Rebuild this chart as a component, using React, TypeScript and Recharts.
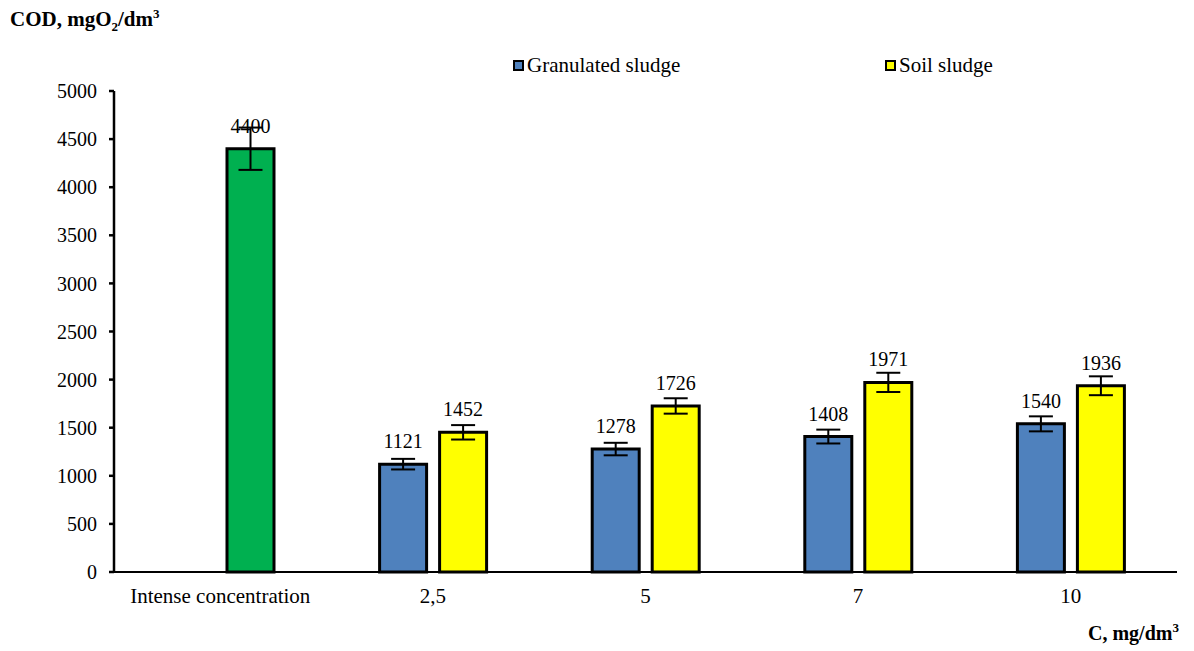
import React from 'react';
import {
  BarChart,
  Bar,
  XAxis,
  YAxis,
  Cell,
  ErrorBar,
  LabelList,
} from 'recharts';

const categories = ['Intense concentration', '2,5', '5', '7', '10'];
const granulated = [null, 1121, 1278, 1408, 1540];
const granulatedErr = [null, 55, 65, 72, 78];
const soil = [4400, 1452, 1726, 1971, 1936];
const soilErr = [220, 75, 80, 100, 98];
const yTicks = [0, 500, 1000, 1500, 2000, 2500, 3000, 3500, 4000, 4500, 5000];

const data = categories.map((c, i) => ({
  name: c,
  granulated: granulated[i],
  granulatedErr: granulatedErr[i],
  soil: soil[i],
  soilErr: soilErr[i],
}));

const FONT = '"Liberation Serif", "Times New Roman", serif';
const BLUE = '#4F81BD';
const YELLOW = '#FFFF00';
const GREEN = '#00B050';

const legendItems = [
  { label: 'Granulated sludge', color: BLUE, left: 513 },
  { label: 'Soil sludge', color: YELLOW, left: 885 },
];

export default function App() {
  return (
    <div
      style={{
        position: 'absolute',
        left: 0,
        top: 0,
        width: 1194,
        height: 651,
        background: '#fff',
        fontFamily: FONT,
      }}
    >
      <BarChart
        width={1194}
        height={651}
        data={data}
        margin={{ top: 91, right: 17, bottom: 49, left: 0 }}
        barSize={47}
        barGap={13}
      >
        <XAxis
          dataKey="name"
          stroke="#000"
          strokeWidth={2}
          tickLine={false}
          tickSize={0}
          tickMargin={16}
          tick={{ fill: '#000', fontSize: 21, fontFamily: FONT }}
          height={30}
        />
        <YAxis
          domain={[0, 5000]}
          ticks={yTicks}
          stroke="#000"
          strokeWidth={2.5}
          tickSize={5}
          tickMargin={12}
          tick={{ fill: '#000', fontSize: 20, fontFamily: FONT }}
          width={114}
          interval={0}
        />
        <Bar
          dataKey="granulated"
          fill={BLUE}
          stroke="#000"
          strokeWidth={3}
          isAnimationActive={false}
        >
          <ErrorBar dataKey="granulatedErr" width={12} stroke="#000" strokeWidth={2} />
          <LabelList
            dataKey="granulated"
            position="top"
            offset={16}
            fill="#000"
            fontSize={20}
            fontFamily={FONT}
          />
        </Bar>
        <Bar
          dataKey="soil"
          fill={YELLOW}
          stroke="#000"
          strokeWidth={3}
          isAnimationActive={false}
        >
          {data.map((d, i) => (
            <Cell key={d.name} fill={i === 0 ? GREEN : YELLOW} />
          ))}
          <ErrorBar dataKey="soilErr" width={12} stroke="#000" strokeWidth={2} />
          <LabelList
            dataKey="soil"
            position="top"
            offset={16}
            fill="#000"
            fontSize={20}
            fontFamily={FONT}
          />
        </Bar>
      </BarChart>

      {/* legend */}
      {legendItems.map((it) => (
        <div
          key={it.label}
          style={{
            position: 'absolute',
            left: it.left,
            top: 53,
            display: 'flex',
            alignItems: 'center',
            fontSize: 21,
            color: '#000',
          }}
        >
          <span
            style={{
              width: 7,
              height: 7,
              border: '2.5px solid #000',
              background: it.color,
              marginRight: 3,
              display: 'inline-block',
            }}
          />
          {it.label}
        </div>
      ))}

      {/* axis titles */}
      <div
        style={{
          position: 'absolute',
          left: 10,
          top: 6,
          fontSize: 21,
          fontWeight: 'bold',
          color: '#000',
          whiteSpace: 'nowrap',
        }}
      >
        COD, mgO<sub style={{ fontSize: 13 }}>2</sub>/dm<sup style={{ fontSize: 13 }}>3</sup>
      </div>
      <div
        style={{
          position: 'absolute',
          left: 1088,
          top: 620,
          fontSize: 20,
          fontWeight: 'bold',
          color: '#000',
          whiteSpace: 'nowrap',
        }}
      >
        C, mg/dm<sup style={{ fontSize: 13 }}>3</sup>
      </div>
    </div>
  );
}
